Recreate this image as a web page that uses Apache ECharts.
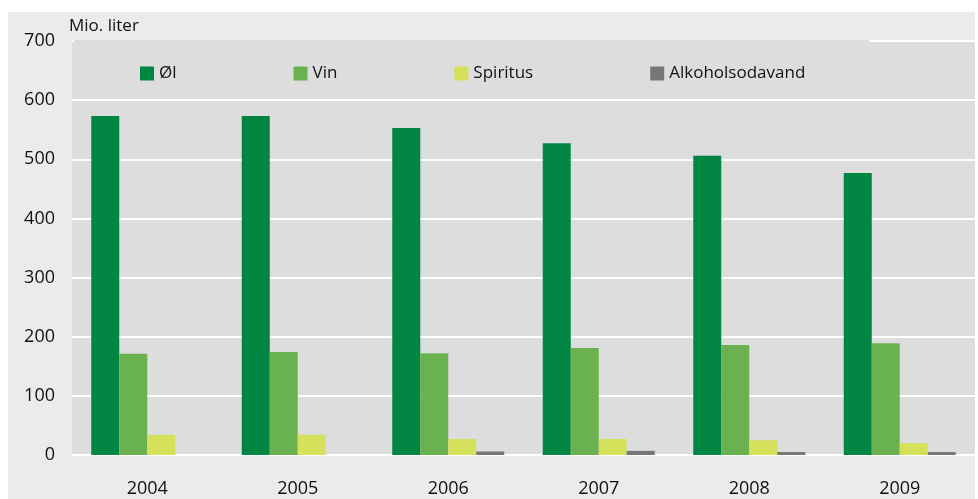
<!DOCTYPE html>
<html>
<head>
<meta charset="utf-8">
<script src="https://cdn.jsdelivr.net/npm/echarts@6/dist/echarts.min.js"></script>
<style>
  html, body { margin: 0; padding: 0; background: #fff; }
  #chart { width: 978px; height: 499px; }
</style>
</head>
<body>
<div id="chart"></div>
<script>
const years = ['2004', '2005', '2006', '2007', '2008', '2009'];
const ol = [573, 573, 553, 527, 506, 477];
const vin = [171, 174, 172, 181, 186, 189];
const spiritus = [34, 34, 27, 27, 25, 20];
const alkoholsodavand = [0, 0, 6, 7, 5, 5];
const yTicks = [0, 100, 200, 300, 400, 500, 600, 700];

const font = 'Open Sans';
const chart = echarts.init(document.querySelector('#chart'), null, {renderer: 'canvas'});

function bar(name, data, color){
    return {
        name: name,
        type: 'bar',
        data: data,
        barWidth: 28,
        barGap: '0%',
        itemStyle: { color: color },
        z: 3
    };
}

const options = {
    animation: false,
    textStyle: { fontFamily: font },
    graphic: [
        { type: 'rect', shape: { x: 8, y: 12, width: 967, height: 487 }, style: { fill: '#ebebeb' }, z: -10 },
        // legend box sits over the top grid line
        { type: 'rect', shape: { x: 74, y: 40, width: 795, height: 58 }, style: { fill: '#dddddd' }, z: 1 },
        { type: 'text', left: 69, top: 18, style: { text: 'Mio. liter', fontSize: 17, fontFamily: font, fill: '#111111' }, z: 2 }
    ],
    grid: {
        left: 72, right: 3, top: 41, bottom: 44,
        show: true, backgroundColor: '#dddddd', borderWidth: 0
    },
    legend: {
        left: 135, top: 60,
        itemWidth: 14, itemHeight: 14, itemGap: 117,
        icon: 'rect',
        textStyle: { fontSize: 17, color: '#111111', fontFamily: font },
        data: ['Øl', 'Vin', 'Spiritus', 'Alkoholsodavand'],
        z: 5
    },
    xAxis: {
        type: 'category',
        data: years,
        axisLine: { show: false },
        axisTick: { show: false },
        axisLabel: { fontSize: 18, color: '#111111', margin: 25 }
    },
    yAxis: {
        type: 'value',
        min: yTicks[0], max: yTicks[yTicks.length - 1], interval: 100,
        axisLine: { show: false },
        axisTick: { show: false },
        axisLabel: { fontSize: 18, color: '#111111', margin: 17 },
        splitLine: { show: true, lineStyle: { color: '#ffffff', width: 2 } }
    },
    series: [
        bar('Øl', ol, '#008542'),
        bar('Vin', vin, '#6ab150'),
        bar('Spiritus', spiritus, '#d5e05b'),
        bar('Alkoholsodavand', alkoholsodavand, '#777777')
    ]
};

chart.setOption(options);
window.addEventListener('resize', chart.resize);
</script>
</body>
</html>
